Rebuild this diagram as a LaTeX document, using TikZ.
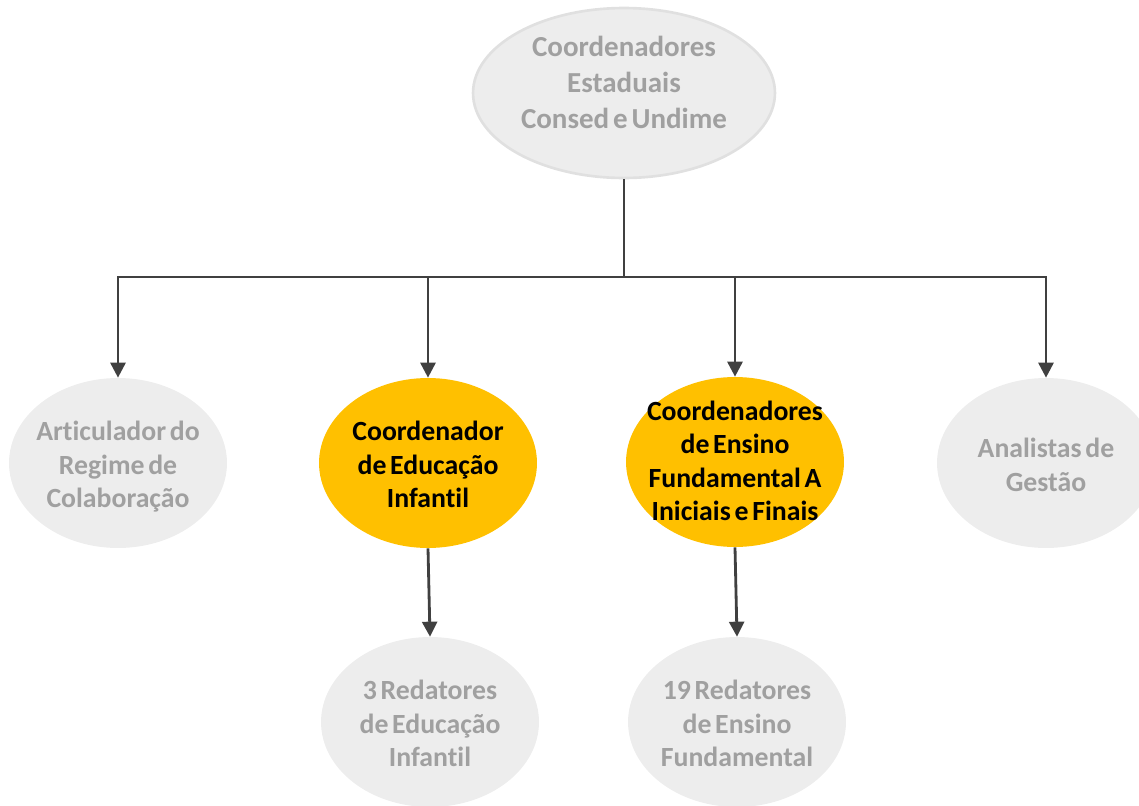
\documentclass[tikz,border=0pt]{standalone}
\usepackage{fontspec}
\setmainfont{Carlito}[WordSpace=0.6,Ligatures=NoCommon]
\usetikzlibrary{shapes.geometric,arrows.meta}
\definecolor{boxgray}{HTML}{EDEDED}
\definecolor{rimgray}{HTML}{E0E0E0}
\definecolor{txtgray}{HTML}{A0A0A0}
\definecolor{gold}{HTML}{FFC000}
\definecolor{linegray}{HTML}{404040}
\newcommand{\ovaltext}[2][-0.22cm]{\smash{\raisebox{#1}{\makebox[0pt]{\begin{tabular}{@{}c@{}}#2\end{tabular}}}}}
\begin{document}
\begin{tikzpicture}[x=0.02cm,y=-0.02cm,
    role/.style={ellipse, fill=boxgray, text=txtgray, minimum width=4.36cm, minimum height=3.4cm,
      inner sep=0pt, font=\fontsize{15.8}{19}\selectfont\bfseries},
    lead/.style={role, fill=gold, text=black},
    arr/.style={draw=linegray, line width=1.6pt, -{Triangle[length=0.3cm,width=0.3cm]}}]
  \useasboundingbox (0,0) rectangle (1139,805);
  \node[role, draw=rimgray, line width=1.5pt, minimum width=6.04cm, font=\fontsize{16.5}{20.5}\selectfont\bfseries] (top) at (624,93) {\ovaltext[0pt]{Coordenadores\\Estaduais\\Consed e Undime}};
  \node[role] (art) at (118,463) {\ovaltext{Articulador do\\Regime de\\Colaboração}};
  \node[lead] (edu) at (428,463) {\ovaltext{Coordenador\\de Educação\\Infantil}};
  \node[lead] (ens) at (735,462) {\ovaltext[-0.16cm]{Coordenadores\\de Ensino\\Fundamental A\\Iniciais e Finais}};
  \node[role] (ana) at (1046,463) {\ovaltext{Analistas de\\Gestão}};
  \node[role] (redi) at (430,722) {\ovaltext{3 Redatores\\de Educação\\Infantil}};
  \node[role] (redf) at (737,722) {\ovaltext{19 Redatores\\de Ensino\\Fundamental}};
  \coordinate (bus) at (624,277);
  \draw[draw=linegray, line width=1.6pt] (top.south) -- (bus);
  \draw[arr] (bus) -| (art.north);
  \draw[arr] (bus) -| (edu.north);
  \draw[arr] (bus) -| (ens.north);
  \draw[arr] (bus) -| (ana.north);
  \draw[arr] (edu.south) -- (redi.north);
  \draw[arr] (ens.south) -- (redf.north);
\end{tikzpicture}
\end{document}
